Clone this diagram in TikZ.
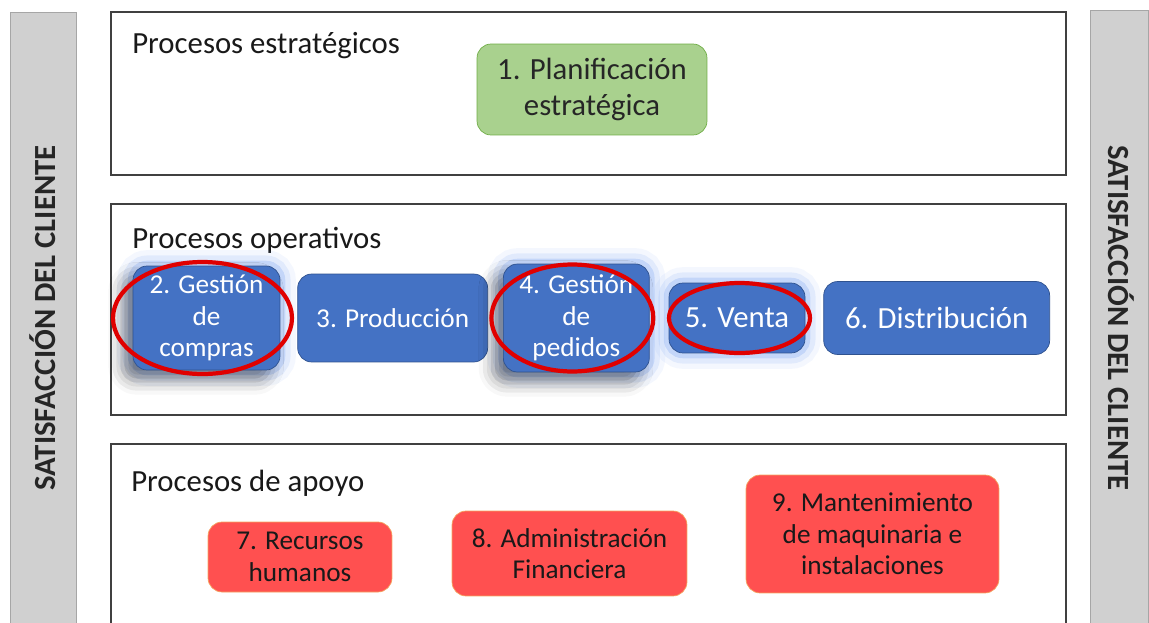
\documentclass[tikz,border=0pt]{standalone}
\usepackage{fontspec}
\setmainfont{Carlito}
\usetikzlibrary{positioning,shapes,shadows.blur}
\definecolor{bargray}{HTML}{D0D0D0}
\definecolor{baredge}{HTML}{A6A6A6}
\definecolor{framegray}{HTML}{404040}
\definecolor{stratgreen}{HTML}{A9D18E}
\definecolor{stratedge}{HTML}{70AD47}
\definecolor{opblue}{HTML}{4472C4}
\definecolor{opedge}{HTML}{2F528F}
\definecolor{glowblue}{HTML}{6F9BF0}
\definecolor{supred}{HTML}{FF5050}
\definecolor{supedge}{HTML}{F4A460}
\definecolor{ringred}{HTML}{E00000}
\tikzset{
  sidebar/.style = {fill=bargray, draw=baredge},
  sidetext/.style = {font=\bfseries\fontsize{17.5}{20}\selectfont, text=black!85},
  procframe/.style = {draw=framegray, line width=0.9pt},
  grouptitle/.style = {anchor=base west, inner sep=0pt, font=\fontsize{17.5}{20}\selectfont, text=black!90},
  proc/.style = {rounded corners=8pt, align=center, inner sep=1pt, font=\fontsize{15.5}{18}\selectfont},
  bigtext/.style = {font=\fontsize{17.5}{20.5}\selectfont},
  stratproc/.style = {proc, bigtext, fill=stratgreen, draw=stratedge, text=black!85},
  opproc/.style = {proc, fill=opblue, draw=opedge, text=white},
  glowproc/.style = {opproc,
    preaction={draw=glowblue, line width=18pt, opacity=0.08},
    preaction={draw=glowblue, line width=12pt, opacity=0.14},
    preaction={draw=glowblue, line width=6pt, opacity=0.25}},
  darkshadow/.style = {blur shadow={shadow xshift=-6pt, shadow yshift=-6pt, shadow blur radius=8pt, shadow opacity=45}},
  supproc/.style = {proc, fill=supred, draw=supedge, text=black!90},
  redring/.style = {ellipse, draw=ringred, line width=2.4pt, inner sep=0pt}
}
\begin{document}
\begin{tikzpicture}[x=0.02cm, y=-0.02cm]
\useasboundingbox (0,0) rectangle (1149,622);
\clip (0,0) rectangle (1149,622);

% side bars
\draw[sidebar] (10,630) -- (10,12) -- (76,12) -- (76,630);
\draw[sidebar] (1090,630) -- (1090,10) -- (1148,10) -- (1148,630);
\node[sidetext, rotate=90] (leftbar) at (43,318) {SATISFACCIÓN DEL CLIENTE};
\node[sidetext, rotate=-90] (rightbar) at (1121,318) {SATISFACCIÓN DEL CLIENTE};

% group frames
\draw[procframe] (111,12) rectangle (1066,175);
\draw[procframe] (111,204) rectangle (1066,415);
\draw[procframe] (111,630) -- (111,444) -- (1066,444) -- (1066,630);
\node[grouptitle] (estrat) at (132,53) {Procesos estratégicos};
\node[grouptitle] (operat) at (132,248) {Procesos operativos};
\node[grouptitle] (apoyo) at (131,491) {Procesos de apoyo};

% strategic
\node[stratproc, minimum width=4.6cm, minimum height=1.82cm] (planif) at (592,89.5) {1. Planificación\\estratégica};

% operative
\node[glowproc, darkshadow, minimum width=2.94cm, minimum height=2.08cm] (compras) at (206.5,318) {2. Gestión\\de\\compras};
\node[opproc, minimum width=3.8cm, minimum height=1.76cm, right=0.34cm of compras] (produccion) {3. Producción};
\node[glowproc, darkshadow, minimum width=2.92cm, minimum height=2.16cm, right=0.3cm of produccion] (pedidos) {4. Gestión\\de\\pedidos};
\node[glowproc, bigtext, minimum width=2.72cm, minimum height=1.4cm, right=0.38cm of pedidos] (venta) {5. Venta};
\node[opproc, bigtext, minimum width=4.52cm, minimum height=1.46cm, right=0.36cm of venta] (distribucion) {6. Distribución};

\node[redring, minimum width=3.58cm, minimum height=2.24cm, xshift=-0.08cm] (ringcompras) at (compras) {};
\node[redring, minimum width=3.24cm, minimum height=2.14cm, xshift=-0.08cm] (ringpedidos) at (pedidos) {};
\node[redring, minimum width=2.82cm, minimum height=1.4cm, xshift=0.05cm] (ringventa) at (venta) {};

% support
\node[supproc, minimum width=3.68cm, minimum height=1.4cm] (rrhh) at (300,557) {7. Recursos\\humanos};
\node[supproc, minimum width=4.7cm, minimum height=1.7cm] (finanzas) at (569.5,553.5) {8. Administración\\Financiera};
\node[supproc, minimum width=5.06cm, minimum height=2.36cm] (mantenimiento) at (872.5,534) {9. Mantenimiento\\de maquinaria e\\instalaciones};
\end{tikzpicture}
\end{document}
